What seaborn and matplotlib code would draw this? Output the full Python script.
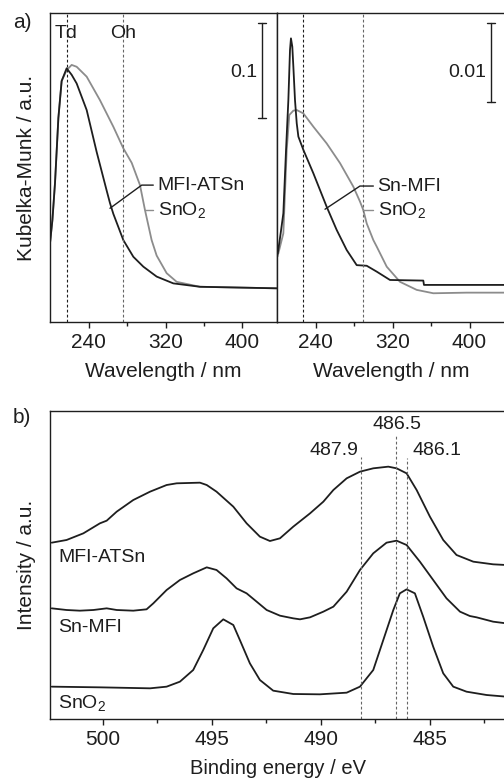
import numpy as np
import pandas as pd
import matplotlib
matplotlib.use("Agg")
import matplotlib.pyplot as plt
import seaborn as sns
from matplotlib.transforms import blended_transform_factory as btf

# ---------------- data: panel a (UV-vis, Kubelka-Munk, arbitrary units) -------------
wl_atsn = [200, 202.5, 205.2, 208.7, 212.1, 217.3, 222.5, 227.7, 238.1, 248.5, 258.9, 262.3,
           265.8, 276.2, 286.6, 297.0, 310.8, 328.1, 355.8, 435.5]
km_atsn = [0.255, 0.33, 0.45, 0.66, 0.78, 0.821, 0.80, 0.772, 0.686, 0.55, 0.425, 0.385,
           0.35, 0.265, 0.211, 0.179, 0.147, 0.125, 0.114, 0.109]

wl_sno2_l = [200, 202.5, 205.2, 208.7, 212.1, 217.3, 222.5, 227.7, 238.1, 251.9, 265.8, 276.2,
             284.9, 293.5, 298.7, 305.6, 310.8, 321.2, 331.6, 355.8, 435.5]
km_sno2_l = [0.255, 0.33, 0.45, 0.66, 0.78, 0.815, 0.832, 0.826, 0.794, 0.718, 0.632, 0.562,
             0.515, 0.443, 0.362, 0.265, 0.215, 0.158, 0.130, 0.114, 0.109]

wl_snmfi = [200.3, 203.8, 206.6, 209.4, 211.8, 213.5, 214.5, 215.9, 217.0, 218.7, 220.5, 222.2,
            227.4, 237.8, 251.6, 262.0, 272.4, 282.8, 293.2, 303.6, 317.4, 352.0, 352.7, 437.5]
km_snmfi = [0.211, 0.287, 0.352, 0.557, 0.718, 0.880, 0.918, 0.891, 0.826, 0.718, 0.643, 0.600,
            0.557, 0.481, 0.373, 0.298, 0.233, 0.184, 0.182, 0.163, 0.136, 0.134, 0.120, 0.120]

wl_sno2_r = [201.4, 206.6, 210.1, 212.8, 217.0, 220.5, 227.4, 237.8, 251.6, 265.5, 279.3, 286.2,
             289.7, 293.2, 300.1, 303.6, 314.0, 327.8, 345.1, 362.4, 397.0, 437.5]
km_sno2_r = [0.222, 0.287, 0.557, 0.670, 0.684, 0.686, 0.675, 0.632, 0.578, 0.514, 0.438, 0.390,
             0.362, 0.319, 0.265, 0.244, 0.179, 0.130, 0.104, 0.093, 0.095, 0.095]

td_oh_left = [217.3, 276.0]
td_oh_right = [227.5, 289.6]
wl_ticks = [240, 320, 400]
wl_minor = [280, 360]

# ---------------- data: panel b (XPS Sn 3d) --------------------------------------
be_atsn = [502.35, 501.67, 500.90, 500.14, 499.83, 499.37, 498.61, 497.84, 497.08, 496.62, 495.55,
           495.24, 494.79, 494.02, 493.41, 492.80, 492.34, 491.88, 491.27, 490.50, 489.89, 489.43,
           488.82, 488.21, 487.60, 486.91, 486.53, 486.07, 485.61, 485.00, 484.39, 483.78, 483.01,
           482.10, 481.50]
int_atsn = [0.5725, 0.5812, 0.6028, 0.6353, 0.6439, 0.6732, 0.7110, 0.7381, 0.7597, 0.7652, 0.7673,
            0.7597, 0.7381, 0.6894, 0.6353, 0.5920, 0.5779, 0.5866, 0.6245, 0.6677, 0.7056, 0.7435,
            0.7814, 0.8030, 0.8139, 0.8193, 0.8139, 0.7976, 0.7435, 0.6569, 0.5812, 0.5325, 0.5108,
            0.5022, 0.5000]

be_snmfi = [502.35, 501.67, 501.06, 500.44, 499.83, 499.37, 498.61, 498.00, 497.69, 497.08, 496.47,
            495.86, 495.24, 494.79, 494.33, 493.87, 493.41, 492.95, 492.49, 491.88, 491.27, 490.96,
            490.50, 489.89, 489.43, 488.82, 488.21, 487.60, 486.99, 486.53, 486.07, 485.46, 484.85,
            484.24, 483.62, 483.17, 482.86, 482.10, 481.50]
int_snmfi = [0.3593, 0.3539, 0.3517, 0.3539, 0.3593, 0.3539, 0.3517, 0.3561, 0.3755, 0.4188, 0.4513,
             0.4729, 0.4924, 0.4838, 0.4567, 0.4242, 0.4080, 0.3810, 0.3539, 0.3355, 0.3268, 0.3236,
             0.3301, 0.3485, 0.3647, 0.4134, 0.4838, 0.5379, 0.5725, 0.5790, 0.5649, 0.5108, 0.4513,
             0.3918, 0.3485, 0.3344, 0.3301, 0.3160, 0.3106]

be_sno2 = [502.35, 500.14, 497.84, 497.08, 496.47, 495.86, 495.40, 494.94, 494.48, 494.02, 493.72,
           493.26, 492.80, 492.19, 491.27, 490.05, 488.82, 488.21, 487.60, 487.14, 486.68, 486.38,
           486.07, 485.69, 485.31, 484.85, 484.39, 483.93, 483.32, 482.40, 481.50]
int_sno2 = [0.1050, 0.1028, 0.0996, 0.1050, 0.1212, 0.1591, 0.2240, 0.2944, 0.3236, 0.3052, 0.2565,
            0.1807, 0.1266, 0.0920, 0.0812, 0.0801, 0.0855, 0.1050, 0.1591, 0.2565, 0.3539, 0.4080,
            0.4210, 0.4080, 0.3323, 0.2348, 0.1483, 0.1050, 0.0887, 0.0779, 0.0725]

be_marks = [488.15, 486.55, 486.05]
be_mark_labels = ["487.9", "486.5", "486.1"]
be_mark_tops = [0.852, 0.922, 0.847]
be_ticks = [500, 495, 490, 485]
be_minor = [497.5, 492.5, 487.5, 482.5]

# ---------------- style -------------------------------------------------------------
sns.set_theme(style="ticks")
plt.rcParams['font.family'] = ['Liberation Sans', 'DejaVu Sans']
plt.rcParams['mathtext.fontset'] = 'custom'
plt.rcParams['mathtext.rm'] = 'Liberation Sans'
plt.rcParams['mathtext.it'] = 'Liberation Sans:italic'
plt.rcParams['mathtext.default'] = 'regular'

FS = 15.0      # axis labels and tick labels
FSB = 14.5     # x label of panel b
FSI = 14       # labels inside the plots
BLACK = '#1e1e1e'
GRAY = '#8c8c8c'
DASH = (0, (2.5, 2))

fig = plt.figure(figsize=(5.04, 7.81), dpi=100)
W, H = 504, 781


def rect(x0, y0, x1, y1):
    return [x0 / W, 1 - y1 / H, (x1 - x0) / W, (y1 - y0) / H]


axL = fig.add_axes(rect(50, 13, 277, 322))
axR = fig.add_axes(rect(277, 13, 506, 322))
axB = fig.add_axes(rect(50, 411, 506, 719))


def style_axis(ax):
    for s in ax.spines.values():
        s.set_linewidth(1.0)
        s.set_color(BLACK)
    ax.set_yticks([])
    ax.tick_params(axis='x', which='major', direction='out', length=4, width=1,
                   labelsize=FS, pad=4, color=BLACK, labelcolor=BLACK)
    ax.tick_params(axis='x', which='minor', direction='out', length=3, width=1, color=BLACK)


# ---------------- panel a ------------------------------------------------------------
dfL = pd.DataFrame({'wl': wl_atsn, 'km': km_atsn})
dfL2 = pd.DataFrame({'wl': wl_sno2_l, 'km': km_sno2_l})
sns.lineplot(data=dfL2, x='wl', y='km', ax=axL, color=GRAY, lw=1.3)
sns.lineplot(data=dfL, x='wl', y='km', ax=axL, color=BLACK, lw=1.3)

dfR = pd.DataFrame({'wl': wl_snmfi, 'km': km_snmfi})
dfR2 = pd.DataFrame({'wl': wl_sno2_r, 'km': km_sno2_r})
sns.lineplot(data=dfR2, x='wl', y='km', ax=axR, color=GRAY, lw=1.3)
sns.lineplot(data=dfR, x='wl', y='km', ax=axR, color=BLACK, lw=1.3)

axL.axvline(td_oh_left[0], color=BLACK, ls=DASH, lw=0.8)
axL.axvline(td_oh_left[1], color='#666666', ls=DASH, lw=0.8)
axR.axvline(td_oh_right[0], color=BLACK, ls=DASH, lw=0.8)
axR.axvline(td_oh_right[1], color='#666666', ls=DASH, lw=0.8)

trL = btf(axL.transData, axL.transAxes)
axL.text(td_oh_left[0] - 0.5, 0.935, "Td", ha='center', va='center', fontsize=FSI, color=BLACK, transform=trL)
axL.text(td_oh_left[1], 0.935, "Oh", ha='center', va='center', fontsize=FSI, color=BLACK, transform=trL)

for ax in (axL, axR):
    ax.set_xlim(200, 200 + (ax.get_position().width * W) / 0.9625)
    ax.set_ylim(0, 1)
    ax.set_xticks(wl_ticks)
    ax.set_xticks(wl_minor, minor=True)
    ax.set_xlabel("Wavelength / nm", fontsize=FS, labelpad=7, color=BLACK)
    ax.set_ylabel("")
    style_axis(ax)

axL.set_ylabel("Kubelka-Munk / a.u.", fontsize=FS, labelpad=10, color=BLACK)

# scale bars
for ax, lab, y0 in ((axL, "0.1", 0.660), (axR, "0.01", 0.712)):
    xb = 0.933
    ax.plot([xb, xb], [y0, 0.968], color=BLACK, lw=1.0, transform=ax.transAxes)
    for yy in (y0, 0.968):
        ax.plot([xb - 0.018, xb + 0.018], [yy, yy], color=BLACK, lw=1.0, transform=ax.transAxes)
    ax.text(0.912, 0.809, lab, ha='right', va='center', fontsize=FSI, color=BLACK,
            transform=ax.transAxes)

# leaders and curve labels
axL.plot([262.3, 295.3, 307.3], [0.368, 0.443, 0.443], color=BLACK, lw=1.0)
axL.plot([298.7, 307.3], [0.362, 0.362], color=GRAY, lw=1.0)
axL.text(312.0, 0.443, "MFI-ATSn", ha='left', va='center', fontsize=FSI, color=BLACK)
axL.text(312.0, 0.362, "SnO$_2$", ha='left', va='center', fontsize=FSI, color=BLACK)

axR.plot([249.9, 286.2, 300.1], [0.365, 0.440, 0.440], color=BLACK, lw=1.0)
axR.plot([289.7, 300.1], [0.362, 0.362], color=GRAY, lw=1.0)
axR.text(304.5, 0.440, "Sn-MFI", ha='left', va='center', fontsize=FSI, color=BLACK)
axR.text(304.5, 0.362, "SnO$_2$", ha='left', va='center', fontsize=FSI, color=BLACK)

fig.text(22 / W, 1 - 23 / H, "a)", ha='center', va='center', fontsize=FS, color=BLACK)

# ---------------- panel b ------------------------------------------------------------
for be, it in ((be_atsn, int_atsn), (be_snmfi, int_snmfi), (be_sno2, int_sno2)):
    sns.lineplot(x=be, y=it, ax=axB, color=BLACK, lw=1.3)

axB.set_xlim(502.43, 481.51)
axB.set_ylim(0, 1)
axB.set_xticks(be_ticks)
axB.set_xticks(be_minor, minor=True)
axB.set_xlabel("Binding energy / eV", fontsize=FSB, labelpad=7, color=BLACK)
axB.set_ylabel("Intensity / a.u.", fontsize=FS, labelpad=10, color=BLACK)
style_axis(axB)

axB.vlines(be_marks, 0, be_mark_tops, colors='#666666', linestyles=DASH, lw=0.8)
axB.text(be_marks[0] + 0.15, 0.873, be_mark_labels[0], ha='right', va='center', fontsize=FSI, color=BLACK)
axB.text(be_marks[1] - 0.05, 0.955, be_mark_labels[1], ha='center', va='center', fontsize=FSI, color=BLACK)
axB.text(be_marks[2] - 0.25, 0.873, be_mark_labels[2], ha='left', va='center', fontsize=FSI, color=BLACK)

axB.text(0.018, (719 - 557) / 308, "MFI-ATSn", ha='left', va='center', fontsize=FSI, color=BLACK,
         transform=axB.transAxes)
axB.text(0.018, (719 - 627) / 308, "Sn-MFI", ha='left', va='center', fontsize=FSI, color=BLACK,
         transform=axB.transAxes)
axB.text(0.018, (719 - 703) / 308, "SnO$_2$", ha='left', va='center', fontsize=FSI, color=BLACK,
         transform=axB.transAxes)

fig.text(22 / W, 1 - 418 / H, "b)", ha='center', va='center', fontsize=FS, color=BLACK)

fig.savefig("out.png", dpi=100, facecolor='white')
